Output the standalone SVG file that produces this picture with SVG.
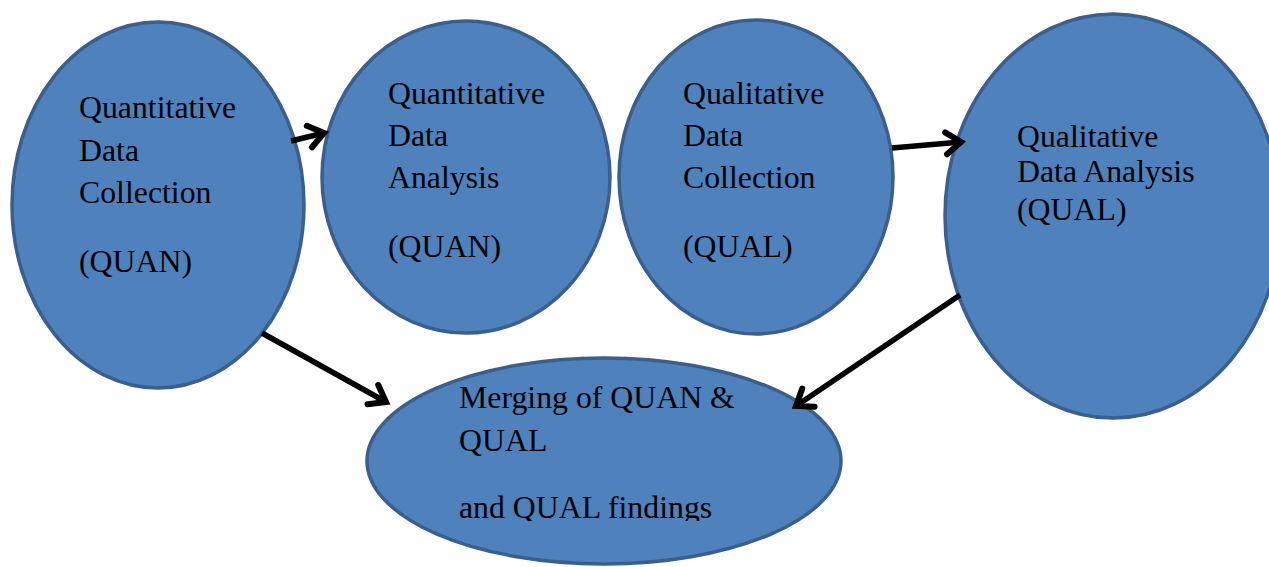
<svg xmlns="http://www.w3.org/2000/svg" width="1269" height="567" viewBox="0 0 1269 567">
  <style>
    .node ellipse { fill: #4F81BD; stroke: #3A5F8C; stroke-width: 3.5; }
    .node text { font-family: "Liberation Serif", "Times New Roman", serif; font-size: 31.8px; fill: #000; }
    .conn line { stroke: #000; stroke-width: 5.5; marker-end: url(#head); }
  </style>
  <defs>
    <marker id="head" markerUnits="userSpaceOnUse" orient="auto" overflow="visible" refX="0" refY="0" markerWidth="30" markerHeight="30">
      <path d="M-15,-11 L0,0 L-15,11" fill="none" stroke="#000" stroke-width="6" stroke-linejoin="miter" stroke-linecap="round"/>
    </marker>
    <clipPath id="mergeClip">
      <rect x="0" y="0" width="1269" height="521"/>
    </clipPath>
  </defs>

  <g id="quan-collection" class="node">
    <ellipse cx="158" cy="205" rx="146" ry="183"/>
    <text x="79" y="118">Quantitative</text>
    <text x="79" y="161">Data</text>
    <text x="79" y="203">Collection</text>
    <text x="79" y="272">(QUAN)</text>
  </g>

  <g id="quan-analysis" class="node">
    <ellipse cx="466" cy="177" rx="144" ry="156"/>
    <text x="388" y="104">Quantitative</text>
    <text x="388" y="146">Data</text>
    <text x="388" y="188">Analysis</text>
    <text x="388" y="257">(QUAN)</text>
  </g>

  <g id="qual-collection" class="node">
    <ellipse cx="756" cy="177" rx="137" ry="157"/>
    <text x="683" y="104">Qualitative</text>
    <text x="683" y="146">Data</text>
    <text x="683" y="188">Collection</text>
    <text x="683" y="257">(QUAL)</text>
  </g>

  <g id="qual-analysis" class="node">
    <ellipse cx="1113" cy="216" rx="168" ry="202"/>
    <text x="1017" y="147">Qualitative</text>
    <text x="1017" y="182">Data Analysis</text>
    <text x="1017" y="220">(QUAL)</text>
  </g>

  <g id="merging" class="node">
    <ellipse cx="604" cy="461" rx="237" ry="103"/>
    <text x="459" y="408">Merging of QUAN &amp;</text>
    <text x="459" y="451">QUAL</text>
    <text x="459" y="518" clip-path="url(#mergeClip)">and QUAL findings</text>
  </g>

  <g id="connectors" class="conn">
    <line x1="291" y1="141" x2="324" y2="133"/>
    <line x1="892" y1="148" x2="961" y2="142"/>
    <line x1="262" y1="333" x2="386" y2="402"/>
    <line x1="960" y1="295" x2="796" y2="406"/>
  </g>
</svg>
